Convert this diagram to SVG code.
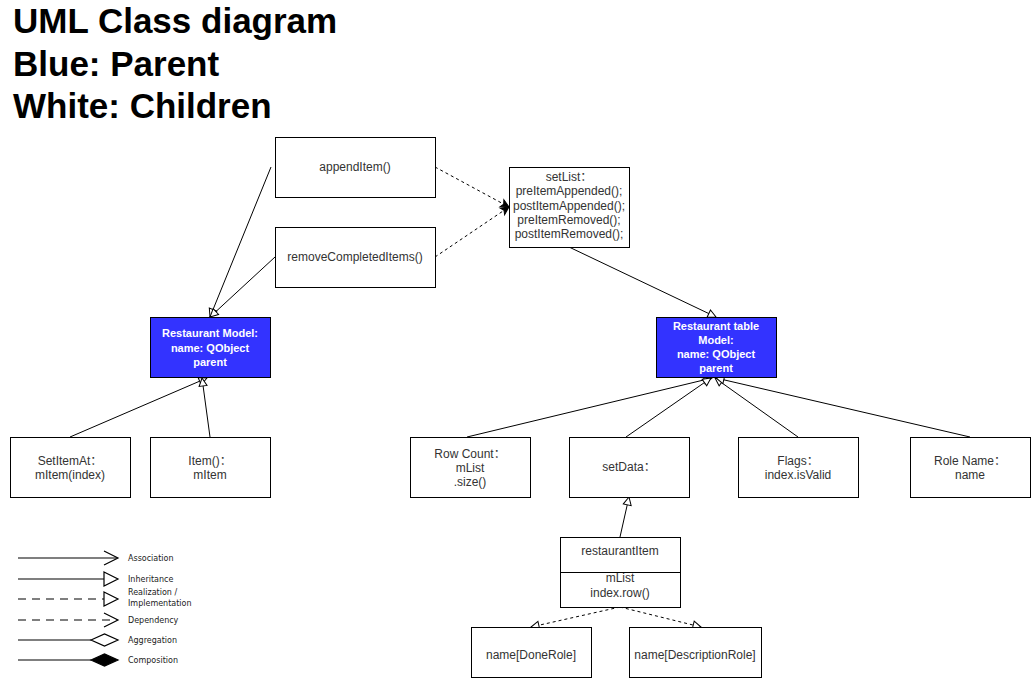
<svg xmlns="http://www.w3.org/2000/svg" width="1031" height="678" viewBox="0 0 1031 678">
<style>
.box{fill:#fff;stroke:#000;stroke-width:1}
.parent{fill:#3333ff;stroke:#000;stroke-width:1}
.t{font-family:"Liberation Sans",Arial,"Noto Sans CJK SC",sans-serif;font-size:12px;fill:#333;text-anchor:middle}
.pt{font-family:"Liberation Sans",Arial,"Noto Sans CJK SC",sans-serif;font-size:11px;font-weight:bold;fill:#fff;text-anchor:middle}
.title{font-family:"Liberation Sans",Arial,sans-serif;font-size:35px;font-weight:bold;fill:#000}
.lg{font-family:"DejaVu Sans",sans-serif;font-size:8px;fill:#222}
.c{fill:none;stroke:#000;stroke-width:1}
.d{fill:none;stroke:#000;stroke-width:1;stroke-dasharray:3 3}
.ll{fill:none;stroke:#000;stroke-width:1.2}
.lw{fill:#fff;stroke:#000;stroke-width:1.2}
.lb{fill:#000;stroke:#000;stroke-width:1.2}
.lld{fill:none;stroke:#000;stroke-width:1.2;stroke-dasharray:8 6}
</style>
<defs>
<marker id="tri" markerUnits="userSpaceOnUse" markerWidth="12" markerHeight="12" refX="9" refY="5" orient="auto" overflow="visible">
<path d="M1,1 L9,5 L1,9 Z" fill="#fff" stroke="#000" stroke-width="1"/>
</marker>
<marker id="blk" markerUnits="userSpaceOnUse" markerWidth="12" markerHeight="12" refX="9" refY="5" orient="auto" overflow="visible">
<path d="M1,1 L9,5 L1,9 L3,5 Z" fill="#000" stroke="#000" stroke-width="1"/>
</marker>
</defs>
<rect width="1031" height="678" fill="#fff"/>
<g id="title">
<text class="title" x="13" y="33">UML Class diagram</text>
<text class="title" x="13" y="76">Blue: Parent</text>
<text class="title" x="13" y="118">White: Children</text>
</g>
<g id="connectors">
<line class="c" x1="271" y1="167" x2="210" y2="317" marker-end="url(#tri)"/>
<line class="c" x1="275" y1="257" x2="210" y2="317" marker-end="url(#tri)"/>
<line class="d" x1="435" y1="167" x2="509" y2="207" marker-end="url(#blk)"/>
<line class="d" x1="435" y1="257" x2="509" y2="207" marker-end="url(#blk)"/>
<line class="c" x1="569" y1="247" x2="716" y2="317" marker-end="url(#tri)"/>
<line class="c" x1="70" y1="437" x2="207" y2="378" marker-end="url(#tri)"/>
<line class="c" x1="210" y1="437" x2="202" y2="378" marker-end="url(#tri)"/>
<line class="c" x1="467" y1="437" x2="712" y2="378" marker-end="url(#tri)"/>
<line class="c" x1="626" y1="437" x2="711" y2="378" marker-end="url(#tri)"/>
<line class="c" x1="798" y1="437" x2="715" y2="378" marker-end="url(#tri)"/>
<line class="c" x1="970" y1="437" x2="716" y2="378" marker-end="url(#tri)"/>
<line class="c" x1="620" y1="537" x2="629" y2="497" marker-end="url(#tri)"/>
<line class="d" x1="620" y1="607" x2="531" y2="627" marker-end="url(#tri)"/>
<line class="d" x1="620" y1="607" x2="701" y2="627" marker-end="url(#tri)"/>
</g>
<g id="appendItem">
<rect class="box" x="275.5" y="137.5" width="160" height="60"/>
<text class="t" x="355" y="171">appendItem()</text>
</g>
<g id="removeCompletedItems">
<rect class="box" x="275.5" y="227.5" width="160" height="60"/>
<text class="t" x="355" y="261">removeCompletedItems()</text>
</g>
<g id="setList">
<rect class="box" x="509.5" y="167.5" width="120" height="80"/>
<text class="t" x="569" y="181">setList：</text>
<text class="t" x="569" y="195">preItemAppended();</text>
<text class="t" x="569" y="210">postItemAppended();</text>
<text class="t" x="569" y="224">preItemRemoved();</text>
<text class="t" x="569" y="238">postItemRemoved();</text>
</g>
<g id="restaurantModel">
<rect class="parent" x="150.5" y="317.5" width="120" height="60"/>
<text class="pt" x="210" y="337">Restaurant Model:</text>
<text class="pt" x="210" y="352">name: QObject</text>
<text class="pt" x="210" y="366">parent</text>
</g>
<g id="restaurantTableModel">
<rect class="parent" x="656.5" y="317.5" width="120" height="60"/>
<text class="pt" x="716" y="330">Restaurant table</text>
<text class="pt" x="716" y="344">Model:</text>
<text class="pt" x="716" y="358">name: QObject</text>
<text class="pt" x="716" y="372">parent</text>
</g>
<g id="setItemAt">
<rect class="box" x="10.5" y="437.5" width="120" height="60"/>
<text class="t" x="70" y="465">SetItemAt：</text>
<text class="t" x="70" y="479">mItem(index)</text>
</g>
<g id="item">
<rect class="box" x="150.5" y="437.5" width="120" height="60"/>
<text class="t" x="210" y="465">Item()：</text>
<text class="t" x="210" y="479">mItem</text>
</g>
<g id="rowCount">
<rect class="box" x="410.5" y="437.5" width="120" height="60"/>
<text class="t" x="470" y="458">Row Count：</text>
<text class="t" x="470" y="472">mList</text>
<text class="t" x="470" y="486">.size()</text>
</g>
<g id="setData">
<rect class="box" x="569.5" y="437.5" width="120" height="60"/>
<text class="t" x="629" y="471">setData：</text>
</g>
<g id="flags">
<rect class="box" x="738.5" y="437.5" width="120" height="60"/>
<text class="t" x="798" y="465">Flags：</text>
<text class="t" x="798" y="479">index.isValid</text>
</g>
<g id="roleName">
<rect class="box" x="910.5" y="437.5" width="120" height="60"/>
<text class="t" x="970" y="465">Role Name：</text>
<text class="t" x="970" y="479">name</text>
</g>
<g id="restaurantItem">
<rect class="box" x="560.5" y="537.5" width="120" height="70"/>
<line class="c" x1="560.5" y1="572.5" x2="680.5" y2="572.5"/>
<text class="t" x="620" y="555">restaurantItem</text>
<text class="t" x="620" y="582">mList</text>
<text class="t" x="620" y="597">index.row()</text>
</g>
<g id="doneRole">
<rect class="box" x="471.5" y="627.5" width="120" height="50"/>
<text class="t" x="531" y="659">name[DoneRole]</text>
</g>
<g id="descriptionRole">
<rect class="box" x="629.5" y="627.5" width="132" height="50"/>
<text class="t" x="695" y="659">name[DescriptionRole]</text>
</g>
<g id="legend">
<line class="ll" x1="18" y1="558" x2="117" y2="558"/>
<path class="ll" d="M104,551 L118,558 L104,565"/>
<text class="lg" x="128" y="561">Association</text>
<line class="ll" x1="18" y1="579" x2="104" y2="579"/>
<path class="lw" d="M104,572 L118,579 L104,586 Z"/>
<text class="lg" x="128" y="582">Inheritance</text>
<line class="lld" x1="18" y1="599" x2="104" y2="599"/>
<path class="lw" d="M104,592 L118,599 L104,606 Z"/>
<text class="lg" x="128" y="595">Realization /</text>
<text class="lg" x="128" y="606">Implementation</text>
<line class="lld" x1="18" y1="620" x2="117" y2="620"/>
<path class="ll" d="M104,613 L118,620 L104,627"/>
<text class="lg" x="128" y="623">Dependency</text>
<line class="ll" x1="18" y1="640" x2="91" y2="640"/>
<path class="lw" d="M91,640 L104.5,634 L118,640 L104.5,646 Z"/>
<text class="lg" x="128" y="643">Aggregation</text>
<line class="ll" x1="18" y1="660" x2="91" y2="660"/>
<path class="lb" d="M91,660 L104.5,654 L118,660 L104.5,666 Z"/>
<text class="lg" x="128" y="663">Composition</text>
</g>
</svg>
